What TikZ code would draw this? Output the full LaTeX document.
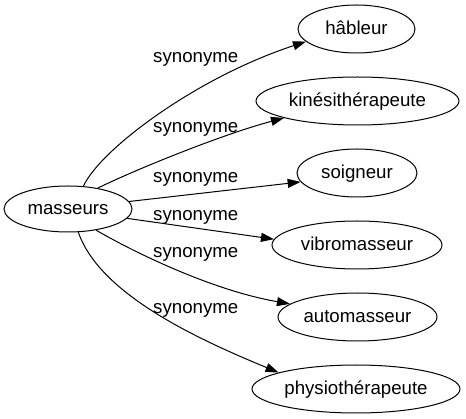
\documentclass[tikz,border=0pt]{standalone}
\usepackage{fontspec}
\setmainfont{Liberation Sans}
\usetikzlibrary{arrows.meta,shapes.geometric}
\begin{document}
\begin{tikzpicture}[x=1pt,y=-1pt,
  word/.style={draw=black,line width=1pt,ellipse,inner sep=0pt,minimum height=48pt,
    font=\fontsize{18.67}{22}\selectfont,text height=14pt,text depth=2pt},
  rel/.style={anchor=base west,inner sep=0pt,font=\fontsize{18.67}{22}\selectfont},
  edge/.style={draw=black,line width=1pt,-{Triangle[length=13pt,width=9pt]}}]
\useasboundingbox (0,0) rectangle (466,419);
\node[word,minimum width=128pt,minimum height=46pt] (m) at (68,209) {masseurs};
\node[word,minimum width=117pt] (h) at (356.5,29) {hâbleur};
\node[word,minimum width=203pt] (k) at (357.5,101) {kinésithérapeute};
\node[word,minimum width=120pt] (s) at (357,173) {soigneur};
\node[word,minimum width=170pt] (v) at (357,245) {vibromasseur};
\node[word,minimum width=159pt] (a) at (357.5,317) {automasseur};
\node[word,minimum width=208pt] (p) at (356,389) {physiothérapeute};
\draw[edge] (m.56) .. controls (100,150) and (195,78) .. (h.194);
\draw[edge] (m.35) .. controls (130,172) and (220,135) .. (k.193);
\draw[edge] (m.7) -- (s.189);
\draw[edge] (m.-9) -- (v.176);
\draw[edge] (m.-37) .. controls (130,250) and (210,290) .. (a.169);
\draw[edge] (m.-66) .. controls (100,295) and (200,340) .. (p.168);
\node[rel] (l1) at (153,63) {synonyme};
\node[rel] (l2) at (153,133) {synonyme};
\node[rel] (l3) at (153,183) {synonyme};
\node[rel] (l4) at (153,221) {synonyme};
\node[rel] (l5) at (153,258) {synonyme};
\node[rel] (l6) at (153,314) {synonyme};
\end{tikzpicture}
\end{document}
